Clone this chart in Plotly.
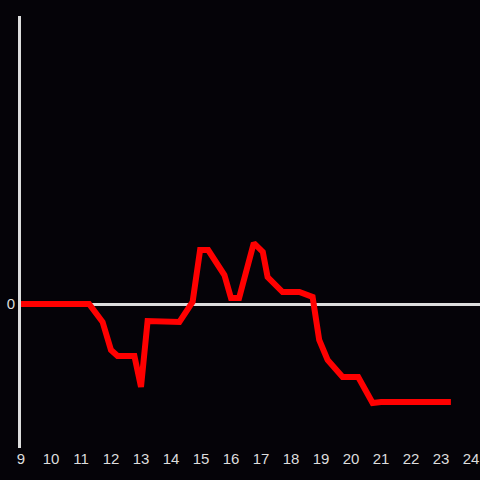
import plotly.graph_objects as go

x_vals = [9, 11.27, 11.72, 12.0, 12.22, 12.78, 13.0, 13.22, 14.28, 14.72, 14.97, 15.24,
          15.78, 16.0, 16.27, 16.76, 17.06, 17.22, 17.72, 18.28, 18.72, 18.94, 19.22,
          19.72, 20.24, 20.72, 21.0, 23.33]
y_vals = [0, 0, -18, -46, -52, -52, -83, -17, -18, 2, 54, 54,
          29, 6, 6, 61, 52, 27, 12, 12, 7, -36, -56,
          -73, -73, -99, -98, -98]
x_ticks = list(range(9, 25))
y_ticks = [0]

bg = "#050308"
fg = "#dddddd"

fig = go.Figure(go.Scatter(x=x_vals, y=y_vals, mode="lines",
                           line=dict(color="#ff0000", width=6), hoverinfo="skip"))
fig.update_layout(
    width=480, height=480,
    paper_bgcolor=bg, plot_bgcolor=bg,
    margin=dict(l=21, r=0, t=16, b=32, autoexpand=False),
    showlegend=False,
    font=dict(family="Liberation Sans, Arial, sans-serif", size=15, color=fg),
)
fig.update_xaxes(range=[9, 24.3], tickvals=x_ticks, ticktext=[str(t) for t in x_ticks],
                 showgrid=False, zeroline=False, showline=False, ticks="",
                 tickfont=dict(color=fg, size=15), automargin=False)
fig.update_yaxes(range=[-144, 288], tickvals=y_ticks, ticktext=["0"],
                 showgrid=False, zeroline=True, zerolinecolor=fg, zerolinewidth=3,
                 showline=True, linecolor=fg, linewidth=3, ticks="",
                 tickfont=dict(color=fg, size=15), automargin=False)
fig.write_html("out.html", config={"displayModeBar": False},
               post_script="document.body.style.margin='0';document.body.style.background='#050308';")
